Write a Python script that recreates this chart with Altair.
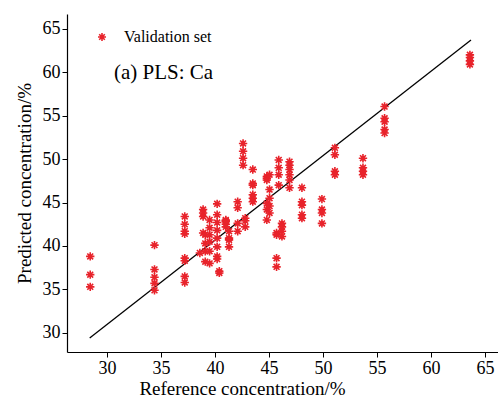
import altair as alt
import pandas as pd

# Reference concentration groups and predicted values
groups = [
    (28.45, [38.8, 36.7, 35.3]),
    (34.4, [40.1, 37.3, 36.4, 35.7, 34.9]),
    (37.2, [43.4, 42.5, 41.7, 41.4, 38.6, 38.3, 36.5, 35.8]),
    (38.6, [39.2]),
    (38.9, [44.2, 43.8, 43.4, 41.5]),
    (39.1, [41.3, 40.3, 39.4, 38.2]),
    (39.5, [43.0, 42.1, 41.3, 40.5, 39.4, 38.0]),
    (40.2, [44.85, 43.6, 42.7, 41.8, 40.9, 39.9, 38.8, 38.5]),
    (40.4, [37.1, 36.9]),
    (41.0, [43.0, 42.8, 42.5, 42.2, 42.9]),
    (41.3, [41.7, 40.9, 39.9, 40.7]),
    (42.1, [45.1, 44.4, 42.6, 41.7]),
    (42.6, [51.8, 50.9, 50.1, 49.3]),
    (42.8, [43.2, 42.9, 42.2]),
    (43.5, [48.8, 47.2, 47.0, 45.9, 45.5, 45.1]),
    (44.8, [48.0, 47.8, 47.6, 44.9, 44.2, 43.0]),
    (45.05, [48.2, 46.5, 45.5, 44.6, 43.8]),
    (45.7, [41.5, 41.3, 38.6, 37.6]),
    (45.9, [49.9, 49.0, 48.2, 47.0]),
    (46.2, [42.6, 42.2, 41.7, 41.1]),
    (46.9, [49.7, 49.3, 48.8, 48.2, 47.6, 46.7]),
    (48.05, [46.7, 45.1, 44.7, 43.6, 43.2]),
    (49.9, [45.4, 44.2, 43.8, 42.6]),
    (51.1, [51.3, 50.5, 48.6, 48.2]),
    (53.7, [50.1, 49.0, 48.6, 48.2]),
    (55.7, [56.05, 54.7, 54.3, 53.4, 53.0]),
    (63.6, [62.0, 61.7, 61.3, 60.9]),
]

ref_vals = [g[0] for g in groups for _ in g[1]]
pred_vals = [v for g in groups for v in g[1]]

line_x = [28.4, 63.7]
line_y = [29.4, 63.7]

x_ticks = [30, 35, 40, 45, 50, 55, 60, 65]
y_ticks = [30, 35, 40, 45, 50, 55, 60, 65]

FONT = "Liberation Serif"
STAR = "M-1,0L1,0M0,-1L0,1M-0.7,-0.7L0.7,0.7M-0.7,0.7L0.7,-0.7"
RED = "#e8232b"

pts = pd.DataFrame({"ref": ref_vals, "pred": pred_vals, "series": "Validation set"})
ln = pd.DataFrame({"ref": line_x, "pred": line_y})

xscale = alt.Scale(domain=[26.3, 66.2], nice=False, zero=False)
yscale = alt.Scale(domain=[27.8, 66.7], nice=False, zero=False)

xaxis = alt.Axis(title="Reference concentration/%", values=x_ticks, grid=False,
                 tickSize=5, labelFont=FONT, titleFont=FONT,
                 labelFontSize=18, titleFontSize=19, labelPadding=2,
                 titleX=175, titleY=42, titleBaseline="alphabetic", titleAlign="center")
yaxis = alt.Axis(title="Predicted concentration/%", values=y_ticks, grid=False,
                 tickSize=5, labelFont=FONT, titleFont=FONT,
                 labelFontSize=18, titleFontSize=19, labelPadding=2,
                 titlePadding=8)

points = alt.Chart(pts).mark_point(shape=STAR, size=70, strokeWidth=1.6, filled=False, opacity=1).encode(
    x=alt.X("ref:Q", scale=xscale, axis=xaxis),
    y=alt.Y("pred:Q", scale=yscale, axis=yaxis),
    color=alt.Color("series:N", scale=alt.Scale(range=[RED]),
                    legend=alt.Legend(title=None, orient="none", legendX=27, legendY=15,
                                      symbolType=STAR, symbolSize=64, symbolStrokeWidth=1.6,
                                      labelFont=FONT, labelFontSize=16, labelOffset=14,
                                      symbolFillColor="transparent", symbolStrokeColor=RED)),
)

line = alt.Chart(ln).mark_line(color="black", strokeWidth=1.3).encode(
    x=alt.X("ref:Q", scale=xscale),
    y=alt.Y("pred:Q", scale=yscale),
)

label = alt.Chart(pd.DataFrame({"t": ["(a) PLS: Ca"]})).mark_text(
    align="left", baseline="middle", font=FONT, fontSize=21, color="black"
).encode(x=alt.value(47), y=alt.value(59), text="t:N")

chart = alt.layer(line, points, label).properties(
    width=431, height=338,
    background="white",
    autosize=alt.AutoSizeParams(type="none"),
    padding={"left": 67, "top": 14, "right": 0, "bottom": 46},
).configure_axis(
    labelFont=FONT, titleFont=FONT, titleFontWeight="normal", labelColor="black",
    titleColor="black", domainColor="black", tickColor="black", domainWidth=1.2,
).configure_view(stroke=None)

chart.save("out.html", embed_options={"renderer": "svg", "actions": False})
